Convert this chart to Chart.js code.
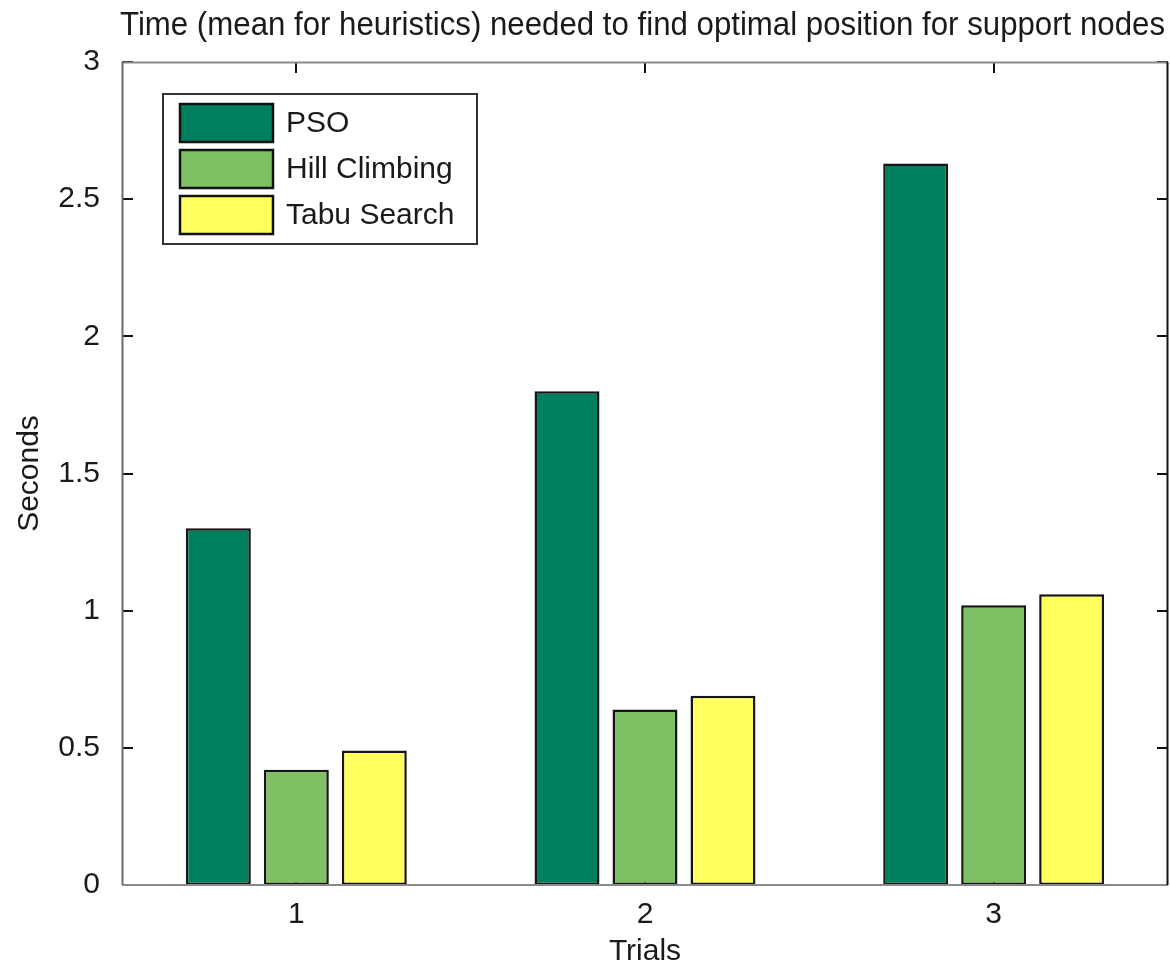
<!DOCTYPE html>
<html>
<head>
<meta charset="utf-8">
<script src="https://cdn.jsdelivr.net/npm/chart.js@4"></script>
<style>
html,body{margin:0;padding:0;background:#fff;}
#c{display:block;}
</style>
</head>
<body>
<canvas id="c" width="1170" height="967"></canvas>
<script>
const categories = ["1", "2", "3"];
const psoValues = [1.30, 1.80, 2.63];
const hillClimbingValues = [0.42, 0.64, 1.02];
const tabuSearchValues = [0.49, 0.69, 1.06];
const yTickLabels = ["0", "0.5", "1", "1.5", "2", "2.5", "3"];
const seriesNames = ["PSO", "Hill Climbing", "Tabu Search"];
const seriesColors = ["#007F5F", "#80C064", "#FFFF60"];
const titleText = "Time (mean for heuristics) needed to find optimal position for support nodes";

const FONT = "'Liberation Sans', Arial, sans-serif";

const framePlugin = {
  id: 'frame',
  beforeDatasetsDraw(chart) {
    const {ctx, chartArea: a, scales} = chart;
    ctx.save();
    ctx.strokeStyle = '#111';
    ctx.lineWidth = 2;
    const tl = 11;
    ctx.beginPath();
    scales.y.ticks.forEach(t => {
      const y = Math.round(scales.y.getPixelForValue(t.value));
      ctx.moveTo(a.left, y); ctx.lineTo(a.left + tl, y);
      ctx.moveTo(a.right, y); ctx.lineTo(a.right - tl, y);
    });
    categories.forEach((c, i) => {
      const x = Math.round(scales.x.getPixelForValue(i));
      ctx.moveTo(x, a.top); ctx.lineTo(x, a.top + tl);
      ctx.moveTo(x, a.bottom); ctx.lineTo(x, a.bottom - tl);
    });
    ctx.stroke();
    ctx.restore();
  },
  afterDatasetsDraw(chart) {
    const {ctx, chartArea: a} = chart;
    ctx.save();
    ctx.lineWidth = 2;
    ctx.strokeStyle = '#8a8a8a';
    ctx.beginPath();
    ctx.moveTo(a.left, a.top + 0.5); ctx.lineTo(a.right, a.top + 0.5);
    ctx.moveTo(a.left, a.bottom); ctx.lineTo(a.right, a.bottom);
    ctx.stroke();
    ctx.strokeStyle = '#6a6a6a';
    ctx.beginPath();
    ctx.moveTo(a.left + 0.5, a.top); ctx.lineTo(a.left + 0.5, a.bottom);
    ctx.stroke();
    ctx.strokeStyle = '#111';
    ctx.beginPath();
    ctx.moveTo(a.right - 0.5, a.top); ctx.lineTo(a.right - 0.5, a.bottom);
    ctx.stroke();

    // Title (condensed horizontally to match the narrow face of the original)
    ctx.fillStyle = '#1a1a1a';
    ctx.font = "34px " + FONT;
    ctx.textAlign = 'left';
    ctx.textBaseline = 'alphabetic';
    const w = ctx.measureText(titleText).width;
    const targetW = 1045;
    const sx = targetW / w;
    ctx.save();
    ctx.translate(120, 35);
    ctx.scale(sx, 1);
    ctx.fillText(titleText, 0, 0);
    ctx.restore();

    // Legend
    const lx = 163, ly = 94, lw = 314, lh = 150;
    ctx.fillStyle = '#fff';
    ctx.fillRect(lx, ly, lw, lh);
    ctx.strokeStyle = '#333';
    ctx.lineWidth = 2;
    ctx.strokeRect(lx, ly, lw, lh);
    chart.data.datasets.forEach((ds, i) => {
      const cy = 123 + i * 46;
      ctx.fillStyle = ds.backgroundColor;
      ctx.fillRect(180, cy - 19, 93, 38);
      ctx.strokeStyle = '#111';
      ctx.lineWidth = 2.5;
      ctx.strokeRect(180, cy - 19, 93, 38);
      ctx.fillStyle = '#1a1a1a';
      ctx.font = "30px " + FONT;
      ctx.textAlign = 'left';
      ctx.textBaseline = 'middle';
      ctx.fillText(ds.label, 286, cy + 1);
    });
    ctx.restore();
  }
};

const datasets = [psoValues, hillClimbingValues, tabuSearchValues].map((vals, i) => ({
  label: seriesNames[i],
  data: vals,
  backgroundColor: seriesColors[i],
  borderColor: '#151515',
  borderWidth: 2.5,
  borderSkipped: false,
  categoryPercentage: 0.671,
  barPercentage: 0.833
}));

new Chart(document.getElementById('c'), {
  type: 'bar',
  data: { labels: categories, datasets },
  options: {
    responsive: false,
    animation: false,
    devicePixelRatio: 1,
    layout: { padding: { top: 62, right: 2, left: 0, bottom: 0 } },
    plugins: {
      legend: { display: false },
      title: { display: false },
      tooltip: { enabled: false }
    },
    scales: {
      x: {
        grid: { display: false },
        border: { display: false },
        ticks: { color: '#1a1a1a', font: { family: FONT, size: 30 }, padding: 4, maxRotation: 0 },
        title: { display: true, text: 'Trials', color: '#1a1a1a', font: { family: FONT, size: 30 }, padding: { top: 0, bottom: -3 } },
        afterFit(s) { s.height = 82; }
      },
      y: {
        min: 0, max: 3,
        grid: { display: false },
        border: { display: false },
        ticks: {
          stepSize: 0.5,
          color: '#1a1a1a',
          font: { family: FONT, size: 30 },
          padding: 14,
          callback: (v, i) => yTickLabels[i]
        },
        title: { display: true, text: 'Seconds', color: '#1a1a1a', font: { family: FONT, size: 30 }, padding: { top: 12, bottom: 0 } },
        afterFit(s) { s.width = 122; }
      }
    }
  },
  plugins: [framePlugin]
});
</script>
</body>
</html>
